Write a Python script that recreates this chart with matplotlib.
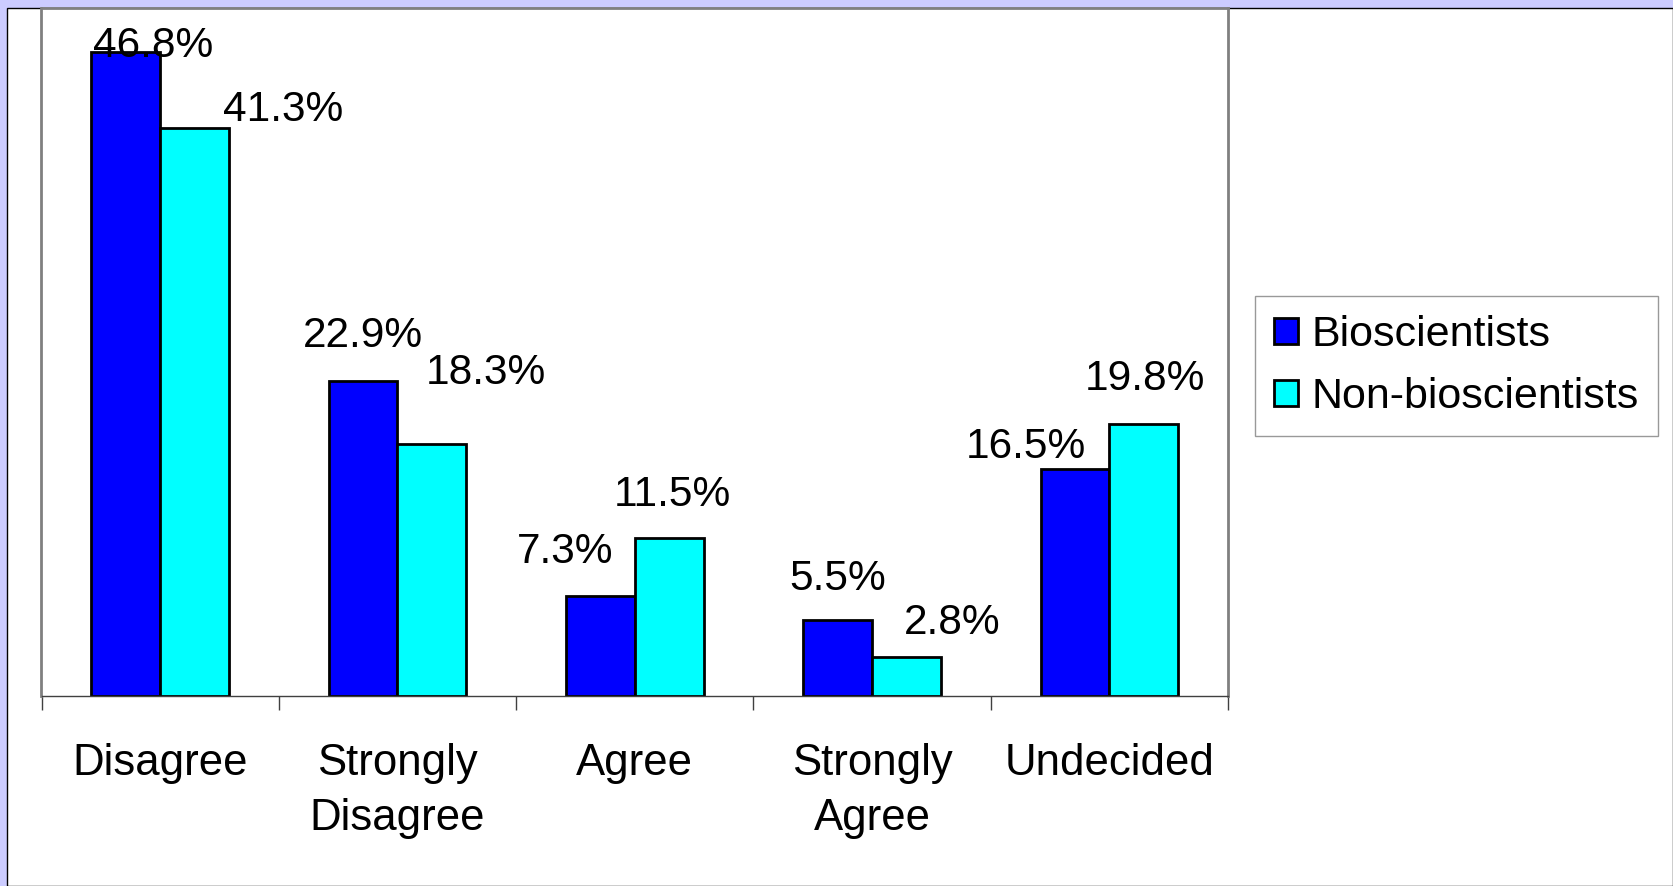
import matplotlib.pyplot as plt
from matplotlib.patches import Rectangle
import numpy as np

plt.rcParams['font.family'] = ['Liberation Sans', 'DejaVu Sans']

categories = ['Disagree', 'Strongly\nDisagree', 'Agree', 'Strongly\nAgree', 'Undecided']
bio = [46.8, 22.9, 7.3, 5.5, 16.5]
nonbio = [41.3, 18.3, 11.5, 2.8, 19.8]
series_names = ['Bioscientists', 'Non-bioscientists']

# label offsets (points) from bar top centre, like the hand-moved labels in the original
bio_off = [(20, 4), (0, 32), (-25, 31), (0, 30), (-35, 16)]
nonbio_off = [(64, 13), (39, 51), (2, 31), (33, 25), (1, 32)]

fig = plt.figure(figsize=(16.74, 8.86), dpi=100)
fig.patch.set_facecolor('#ccccff')
# white chart area
fig.patches.append(Rectangle((7 / 1674, 0), 1 - 7 / 1674 - 1 / 1674, 1 - 8 / 886,
                             transform=fig.transFigure, facecolor='white',
                             edgecolor='black', linewidth=1, zorder=-1))

ax = fig.add_axes([41.5 / 1674, 1 - 696 / 886, (1228 - 41.5) / 1674, (696 - 8) / 886])
ax.set_facecolor('white')
ax.set_zorder(1)

x = np.arange(len(categories))
w = 0.29
b1 = ax.bar(x - w / 2, bio, w, color='#0000ff', edgecolor='black', linewidth=2, label=series_names[0])
b2 = ax.bar(x + w / 2, nonbio, w, color='#00ffff', edgecolor='black', linewidth=2, label=series_names[1])

for bars, vals, offs in [(b1, bio, bio_off), (b2, nonbio, nonbio_off)]:
    for r, v, (dx, dy) in zip(bars, vals, offs):
        ax.annotate(f'{v}%', (r.get_x() + r.get_width() / 2, r.get_height()),
                    xytext=(dx, dy), textcoords='offset points',
                    ha='center', va='center', fontsize=30.5)

ax.set_xlim(-0.5, 4.5)
ax.set_ylim(0, 50)
ax.set_yticks([])
ax.set_xticks(np.arange(-0.5, 5, 1))
ax.set_xticklabels([])
ax.tick_params(axis='x', which='major', direction='out', length=10, width=1, color='#404040')
ax.set_xticks(x, minor=True)
ax.set_xticklabels(categories, minor=True, fontsize=31.5, linespacing=1.42)
ax.tick_params(axis='x', which='minor', length=0, pad=34)

for s in ['left', 'top', 'right']:
    ax.spines[s].set_color('#808080')
    ax.spines[s].set_linewidth(2)
ax.spines['bottom'].set_color('#404040')
ax.spines['bottom'].set_linewidth(1)

leg = fig.legend(handles=[b1, b2], loc='upper left',
                 bbox_to_anchor=(1255 / 1674, 1 - 296 / 886), borderaxespad=0,
                 fontsize=31, frameon=True, fancybox=False, edgecolor='#808080',
                 handlelength=0.56, handleheight=0.56, handletextpad=0.3,
                 labelspacing=0.5, borderpad=0.45)
leg.get_frame().set_linewidth(1)
leg.set_zorder(5)

fig.savefig('out.png', dpi=100, facecolor=fig.get_facecolor())
